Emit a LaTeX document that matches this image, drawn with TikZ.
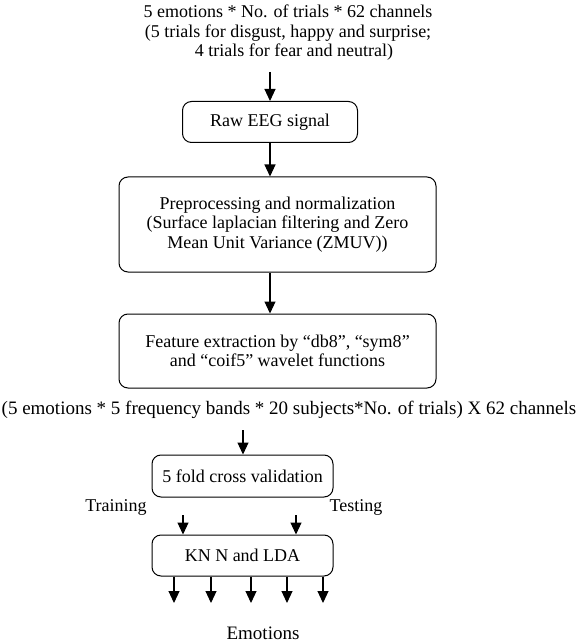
\documentclass[tikz,border=0pt]{standalone}
\usepackage{fontspec}
\setmainfont{Liberation Serif}
\usetikzlibrary{arrows.meta,calc}
\begin{document}
\begin{tikzpicture}[x=1pt,y=-1pt,
  box/.style={draw,rounded corners=9pt,line width=1pt,inner sep=0pt,align=center},
  txt/.style={align=center,inner sep=0pt},
  arr/.style={line width=1.1pt,-{Triangle[length=12pt,width=11pt]}},
  every node/.append style={font=\fontsize{18}{19.5}\selectfont}]
\useasboundingbox (0,0) rectangle (582,644);
\node[txt] (top) at (288,33) {5 emotions * No. of trials * 62 channels\\(5 trials for disgust, happy and surprise;\\\hspace*{12pt}4 trials for fear and neutral)};
\node[box,minimum width=175pt,minimum height=41pt] (raw) at (270,122) {Raw EEG signal};
\node[box,minimum width=317pt,minimum height=95pt] (pre) at (277.5,224.5) {Preprocessing and normalization\\(Surface laplacian filtering and Zero\\Mean Unit Variance (ZMUV))};
\node[box,minimum width=317pt,minimum height=74pt] (feat) at (277.5,351) {Feature extraction by ``db8'', ``sym8''\\and ``coif5'' wavelet functions};
\node[txt,font=\fontsize{19}{21}\selectfont] (wide) at (289,410) {(5 emotions * 5 frequency bands * 20 subjects*No. of trials) X 62 channels};
\node[box,minimum width=181pt,minimum height=42pt] (fold) at (242.5,476) {5 fold cross validation};
\node[box,minimum width=181pt,minimum height=41pt] (knn) at (242.5,555.5) {KN N and LDA};
\node[txt] (train) at (116,507) {Training};
\node[txt] (test) at (356,507) {Testing};
\node[txt,font=\fontsize{19}{22}\selectfont] (emo) at (263,633) {Emotions};
\coordinate (a0) at (270,72);
\coordinate (w0) at (243,430);
\coordinate (t1) at (183,515);
\coordinate (t2) at (296,515);
\draw[arr] (a0) -- (a0 |- raw.north);
\draw[arr] (raw.south) -- (raw.south |- pre.north);
\draw[arr] (pre.south -| raw) -- (feat.north -| raw);
\draw[arr] (w0) -- (w0 |- fold.north);
\draw[arr] (t1) -- (t1 |- knn.north);
\draw[arr] (t2) -- (t2 |- knn.north);
\foreach \i/\x in {1/174,2/211,3/251,4/287,5/323}{
  \coordinate (o\i) at (\x,603);
  \draw[arr] (o\i |- knn.south) -- (o\i);
}
\end{tikzpicture}
\end{document}
